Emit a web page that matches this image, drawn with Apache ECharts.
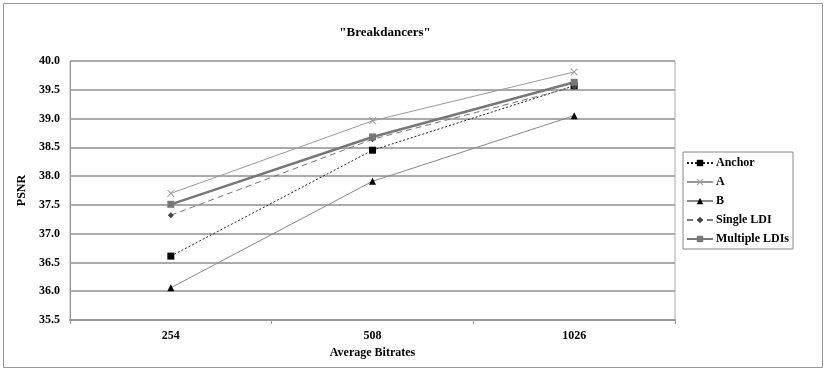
<!DOCTYPE html>
<html><head><meta charset="utf-8">
<script src="https://cdn.jsdelivr.net/npm/echarts@6/dist/echarts.min.js"></script>
<style>html,body{margin:0;padding:0;background:#fff}#c{width:827px;height:372px}</style>
</head><body><div id="c"></div>
<script>
const categories = ['254', '508', '1026'];
const anchor = [36.61, 38.45, 39.57];
const seriesA = [37.70, 38.96, 39.81];
const seriesB = [36.06, 37.91, 39.05];
const singleLDI = [37.32, 38.64, 39.55];
const multipleLDIs = [37.51, 38.68, 39.63];
const yTicks = { min: 35.5, max: 40.0, step: 0.5 };

const FONT = 'Liberation Serif';
const chart = echarts.init(document.getElementById('c'), null, {renderer: 'canvas'});
const xPath = 'path://M0,0L1,0L5,4L9,0L10,0L10,1L6,5L10,9L10,10L9,10L5,6L1,10L0,10L0,9L4,5L0,1Z';
chart.setOption({
  animation: false,
  backgroundColor: '#fff',
  graphic: [{type: 'rect', shape: {x: 3.5, y: 3.5, width: 819, height: 364}, style: {fill: 'none', stroke: '#999', lineWidth: 1}, z: -1}],
  title: {text: '"Breakdancers"', left: 380, top: 21, textAlign: 'center',
    textStyle: {fontFamily: FONT, fontWeight: 'bold', fontSize: 13, color: '#000'}},
  grid: {left: 70, right: 152, top: 61, bottom: 52, show: true, borderColor: '#aaa', borderWidth: 1},
  legend: {orient: 'vertical', left: 683, top: 152, padding: [5, 4, 4, 3], itemGap: 7,
    itemWidth: 26, itemHeight: 8, borderColor: '#888', borderWidth: 1, backgroundColor: '#fff',
    textStyle: {fontFamily: FONT, fontWeight: 'bold', fontSize: 12, color: '#000', padding: [0,0,0,-2]}},
  xAxis: {type: 'category', data: categories, boundaryGap: true,
    name: 'Average Bitrates', nameLocation: 'middle', nameGap: 26,
    nameTextStyle: {fontFamily: FONT, fontWeight: 'bold', fontSize: 12, color: '#000'},
    axisLine: {lineStyle: {color: '#999', width: 2}},
    axisTick: {show: true, length: 4, lineStyle: {color: '#999'}},
    axisLabel: {fontFamily: FONT, fontWeight: 'bold', fontSize: 12, color: '#000', margin: 10}},
  yAxis: {type: 'value', min: yTicks.min, max: yTicks.max, interval: yTicks.step,
    name: 'PSNR', nameLocation: 'middle', nameGap: 42,
    nameTextStyle: {fontFamily: FONT, fontWeight: 'bold', fontSize: 12, color: '#000'},
    axisLine: {show: true, lineStyle: {color: '#999', width: 1}},
    axisTick: {show: false},
    axisLabel: {fontFamily: FONT, fontWeight: 'bold', fontSize: 12, color: '#000', margin: 10,
      formatter: v => v.toFixed(1)},
    splitLine: {lineStyle: {color: '#aaa', width: 2}}},
  series: [
    {name: 'Anchor', type: 'line', data: anchor, symbol: 'rect', symbolSize: 7,
      lineStyle: {color: '#222', width: 1, type: [2, 2]}, itemStyle: {color: '#000'}},
    {name: 'A', type: 'line', data: seriesA, symbol: xPath, symbolSize: 7,
      lineStyle: {color: '#999', width: 1}, itemStyle: {color: '#999'}},
    {name: 'B', type: 'line', data: seriesB, symbol: 'triangle', symbolSize: 7,
      lineStyle: {color: '#888', width: 1}, itemStyle: {color: '#000'}},
    {name: 'Single LDI', type: 'line', data: singleLDI, symbol: 'diamond', symbolSize: 6,
      lineStyle: {color: '#777', width: 1, type: [6, 4]}, itemStyle: {color: '#444'}},
    {name: 'Multiple LDIs', type: 'line', data: multipleLDIs, symbol: 'rect', symbolSize: 7,
      lineStyle: {color: '#777', width: 2.5}, itemStyle: {color: '#777'}}
  ]
});
</script></body></html>
